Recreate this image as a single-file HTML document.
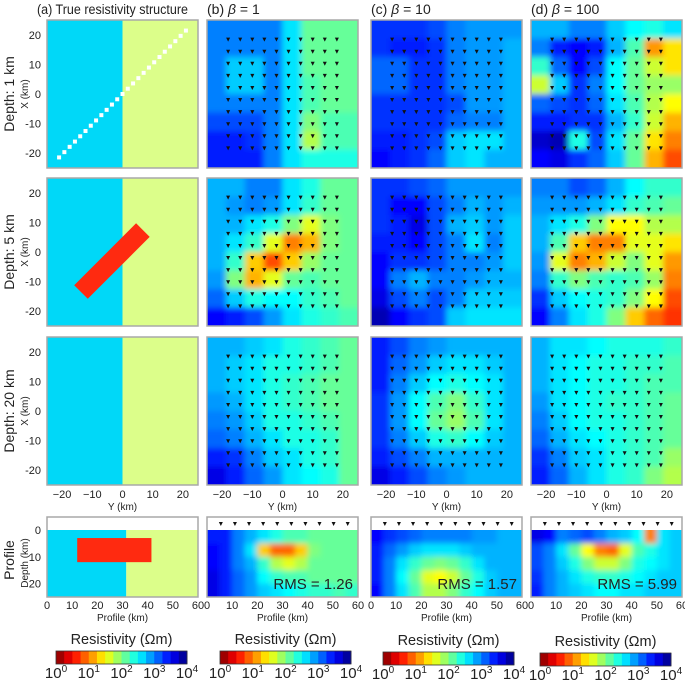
<!DOCTYPE html>
<html><head><meta charset="utf-8"><style>
body{margin:0;background:#fff;}
svg text{font-family:"Liberation Sans",sans-serif;fill:#222;}
</style></head><body>
<svg id="fig" width="685" height="680" viewBox="0 0 685 680" xmlns="http://www.w3.org/2000/svg">
<defs><filter id="bl" x="-10%" y="-10%" width="120%" height="120%"><feGaussianBlur stdDeviation="3"/></filter></defs>
</svg>
<script>
// ---- data: log10 resistivity grids (rows top X=25 -> bottom X=-25, cols Y=-25 -> 25)
const b1=[[3.0,3.0,3.0,3.0,2.6,2.1,2.1,2.1],[3.0,3.0,3.0,3.0,2.6,2.1,2.1,2.1],[3.0,2.7,2.7,3.0,2.6,2.1,2.1,2.1],[3.0,2.7,2.7,3.0,2.6,2.2,2.1,2.1],[3.0,3.0,3.0,3.0,2.6,2.2,2.1,2.1],[3.2,3.2,3.2,3.0,2.6,2.0,2.2,2.2],[3.4,3.4,3.3,3.0,2.6,1.8,2.2,2.2],[3.4,3.4,3.4,3.0,2.6,2.4,2.4,2.4]];
const c1=[[3.3,3.3,3.3,3.2,3.0,2.9,2.9,2.9],[3.3,3.4,3.4,3.3,3.0,2.9,2.9,2.8],[3.1,3.1,3.3,3.3,3.0,2.9,2.9,2.8],[3.1,3.1,3.3,3.3,3.0,2.9,2.9,2.8],[3.3,3.3,3.3,3.3,3.2,2.9,2.9,2.8],[3.3,3.3,3.3,3.3,3.1,3.0,3.0,2.8],[3.4,3.4,3.3,3.2,2.7,2.6,2.6,2.8],[3.5,3.4,3.3,3.1,2.7,2.6,2.8,2.8]];
const d1=[[2.8,2.8,3.0,3.0,2.7,2.5,2.4,2.6],[3.0,3.4,3.5,3.4,2.8,2.2,1.1,1.4],[2.3,3.1,3.5,3.2,2.5,2.1,1.7,1.4],[1.7,2.7,3.3,3.0,2.5,2.1,1.9,1.9],[3.1,3.2,3.3,3.1,2.6,2.2,1.8,1.5],[3.4,3.4,3.3,3.3,2.8,2.3,1.7,1.2],[3.7,3.8,2.4,3.2,2.6,2.1,1.4,1.0],[3.5,3.6,3.3,3.1,2.7,2.1,1.2,0.8]];
const b2=[[2.8,2.8,3.0,3.0,2.6,2.4,2.1,2.1],[2.8,2.9,3.0,2.9,2.6,2.3,2.1,2.1],[2.8,2.8,2.6,2.4,2.0,1.6,2.0,2.1],[2.8,2.6,2.3,1.6,1.0,1.2,2.0,2.1],[2.8,2.3,1.3,0.8,1.3,1.9,2.1,2.1],[2.9,2.0,1.2,1.6,2.1,2.2,2.1,2.1],[3.1,2.7,2.4,2.5,2.5,2.3,2.2,2.1],[3.5,3.4,3.2,2.9,2.6,2.4,2.3,2.2]];
const c2=[[3.3,3.3,3.2,3.1,2.9,2.9,2.9,2.9],[3.3,3.5,3.5,3.2,3.0,2.8,2.9,2.8],[3.3,3.4,3.6,3.2,2.8,2.7,2.9,2.7],[3.4,3.4,3.5,3.2,3.0,2.6,3.0,2.7],[3.5,3.3,3.3,3.2,3.0,3.0,2.9,2.7],[3.5,3.0,2.8,3.0,3.0,2.9,2.8,2.8],[3.6,3.2,3.0,3.2,3.0,2.7,2.7,2.7],[3.8,3.5,3.3,3.2,2.7,2.6,2.6,2.6]];
const d2=[[3.0,3.0,3.2,3.1,2.8,2.5,2.3,2.3],[2.9,2.9,2.9,2.8,2.6,2.3,2.2,2.1],[2.8,2.6,2.4,2.0,1.5,1.5,1.8,1.8],[2.8,2.2,1.3,1.0,1.0,1.6,1.6,1.4],[2.9,1.6,1.0,1.2,1.7,2.0,1.6,1.1],[3.0,2.3,2.0,2.2,2.3,2.2,1.9,1.0],[3.3,2.7,2.5,2.4,2.3,2.0,1.5,0.8],[3.5,3.0,2.6,2.4,2.0,1.3,0.9,0.7]];
const b3=[[2.8,2.8,2.7,2.6,2.4,2.3,2.2,2.1],[2.8,2.7,2.6,2.4,2.4,2.3,2.2,2.1],[2.8,2.7,2.6,2.4,2.3,2.2,2.1,2.1],[2.9,2.8,2.6,2.4,2.3,2.2,2.1,2.1],[3.0,2.9,2.7,2.4,2.4,2.3,2.2,2.1],[3.1,3.0,2.8,2.6,2.4,2.4,2.3,2.1],[3.4,3.3,3.0,2.7,2.6,2.4,2.3,2.1],[3.6,3.4,3.1,2.9,2.6,2.5,2.4,2.1]];
const c3=[[3.4,3.2,3.0,2.9,2.8,2.8,2.8,2.8],[3.4,3.1,2.9,2.7,2.6,2.6,2.7,2.8],[3.4,3.0,2.7,2.5,2.4,2.5,2.6,2.8],[3.3,2.9,2.5,2.2,2.0,2.3,2.6,2.8],[3.3,2.9,2.5,2.1,1.9,2.2,2.6,2.8],[3.3,3.0,2.7,2.4,2.3,2.5,2.7,2.8],[3.4,3.2,3.0,2.8,2.8,2.8,2.8,2.8],[3.6,3.4,3.2,3.0,2.9,2.8,2.8,2.8]];
const d3=[[2.8,2.6,2.6,2.5,2.4,2.4,2.4,2.3],[2.8,2.6,2.5,2.4,2.4,2.3,2.3,2.2],[2.8,2.6,2.5,2.4,2.4,2.3,2.2,2.2],[2.9,2.6,2.5,2.4,2.3,2.3,2.2,2.1],[3.0,2.7,2.5,2.4,2.4,2.3,2.2,2.1],[3.1,2.8,2.6,2.5,2.4,2.3,2.2,2.1],[3.3,3.0,2.7,2.6,2.4,2.3,2.2,1.9],[3.4,3.1,2.8,2.6,2.4,2.3,2.0,1.8]];
const bp=[[3.4,3.4,3.0,2.8,2.6,2.4,2.2,2.2,2.1,2.1,2.1,2.1],[3.5,3.4,3.0,2.6,1.3,0.9,0.9,1.3,2.0,2.1,2.1,2.1],[3.5,3.4,3.0,2.8,2.3,1.8,1.6,1.8,2.1,2.1,2.1,2.1],[3.6,3.4,3.1,2.9,2.5,2.3,2.2,2.2,2.1,2.1,2.1,2.1],[3.6,3.4,3.1,2.9,2.7,2.6,2.5,2.4,2.3,2.3,2.2,2.3]];
const cp=[[3.5,3.3,3.2,3.1,3.0,3.0,3.0,3.0,2.9,2.9,2.8,2.8],[3.4,3.1,2.9,2.7,2.6,2.6,2.6,2.7,2.8,2.8,2.8,2.8],[3.4,3.0,2.6,2.3,2.1,2.0,2.1,2.3,2.6,2.8,2.8,2.8],[3.4,3.0,2.5,2.1,1.6,1.5,1.7,2.1,2.4,2.7,2.8,2.8],[3.5,3.0,2.6,2.2,1.8,1.8,2.0,2.3,2.5,2.7,2.8,2.8]];
const dp=[[3.6,3.5,3.0,3.1,3.2,3.0,2.8,2.7,2.5,1.0,2.6,2.7],[3.2,3.0,2.6,2.1,1.5,1.0,0.9,1.6,2.2,2.4,2.6,2.7],[3.2,3.0,2.7,2.4,2.0,1.7,1.7,2.0,2.4,2.5,2.6,2.7],[3.3,3.0,2.8,2.6,2.4,2.3,2.3,2.4,2.5,2.6,2.7,2.7],[3.4,3.0,2.8,2.7,2.6,2.5,2.5,2.6,2.6,2.7,2.7,2.7]];
const rmsValues=["1.26","1.57","5.99"];
const mapTicks=[-20,-10,0,10,20];
const profTicks=[0,10,20,30,40,50,60];
const depthTicks=[0,10,20];
const cbExp=["0","1","2","3","4"];

const NS="http://www.w3.org/2000/svg";
const svg=document.getElementById('fig');
function el(t,a,p){const e=document.createElementNS(NS,t);for(const k in a)e.setAttribute(k,a[k]);(p||svg).appendChild(e);return e;}
function cl(x){return Math.max(0,Math.min(1,x));}
function col(v){const t=cl(v/4);const r=cl(1.5-Math.abs(4*(1-t)-3)),g=cl(1.5-Math.abs(4*(1-t)-2)),b=cl(1.5-Math.abs(4*(1-t)-1));return `rgb(${Math.round(r*255)},${Math.round(g*255)},${Math.round(b*255)})`;}
function txt(x,y,s,size,anchor,name,rot){const t=el('text',{x:x,y:y,'font-size':size,'text-anchor':anchor||'middle'});if(rot)t.setAttribute('transform',`rotate(-90 ${x} ${y})`);t.textContent=s;return t;}

const colX=[47,207,371,531], W=151;
const rowY=[20,178,337], H=148;
const pTop=517, pZero=530, pBot=597;
let clipId=0;
function grid(x0,y0,w,h,data,name){
  const id='c'+(clipId++);
  const cp=el('clipPath',{id:id});el('rect',{x:x0,y:y0,width:w,height:h},cp);
  svg.querySelector('defs').appendChild(cp);
  const g=el('g',{'clip-path':`url(#${id})`});
  
  const inner=el('g',{filter:'url(#bl)'},g);
  const R=data.length,C=data[0].length,cw=w/C,ch=h/R,pad=10;
  data.forEach((row,i)=>row.forEach((v,j)=>{
    let x=x0+j*cw,y=y0+i*ch,ww=cw+0.6,hh=ch+0.6;
    if(j==0){x-=pad;ww+=pad;} if(j==C-1)ww+=pad;
    if(i==0){y-=pad;hh+=pad;} if(i==R-1)hh+=pad;
    const r=el('rect',{x:x,y:y,width:ww,height:hh,fill:col(v)},inner);
    
  }));
  return g;
}
function frame(x,y,w,h,name){const r=el('rect',{x:x,y:y,width:w,height:h,fill:'none',stroke:'#a8a8a8','stroke-width':1.5});}
function tri(x,y){const p=el('path',{d:`M${x-2},${y-2}h4l-2,4z`,fill:'#111'});}

// titles
const ta=txt(37,14,'(a) True resistivity structure',13.5,'start','title-a');
ta.setAttribute('textLength','151');ta.setAttribute('lengthAdjust','spacingAndGlyphs');
[['(b) ','1',207],['(c) ','10',371],['(d) ','100',531]].forEach((d,i)=>{
  const t=el('text',{x:d[2],y:14,'font-size':14});t.innerHTML=d[0]+'<tspan font-style="italic">β</tspan> = '+d[1];
  
});

// row labels
['Depth: 1 km','Depth: 5 km','Depth: 20 km'].forEach((s,r)=>{
  const cy=rowY[r]+H/2;
  txt(14,cy,s,14,'middle','row-label-'+(r+1),true);
  txt(28,cy,'X (km)',10,'middle','x-axis-title',true);
  mapTicks.forEach(v=>txt(41,cy-v*2.96+4,String(v),11,'end','x-tick'));
});
txt(14,pTop+(pBot-pTop)/2+3,'Profile',14,'middle','row-label-profile',true);
txt(28,563,'Depth (km)',10,'middle','depth-axis-title',true);

const grids=[[null,b1,c1,d1],[null,b2,c2,d2],[null,b3,c3,d3]];
for(let r=0;r<3;r++){for(let c=0;c<4;c++){
  const x0=colX[c],y0=rowY[r];
  if(c==0){
    const g=el('g',{});
    el('rect',{x:x0,y:y0,width:W/2,height:H,fill:'#00d8f8'},g);
    el('rect',{x:x0+W/2,y:y0,width:W/2,height:H,fill:'#dcfe8a'},g);
    if(r==1){const cx=x0+W/2,cy=y0+H/2,s=W/50;
      el('polygon',{points:`${cx-16*s},${cy+11*s} ${cx+4.5*s},${cy-9.5*s} ${cx+9*s},${cy-5*s} ${cx-11.5*s},${cy+15.5*s}`,fill:'#ff2a10'},g);}
    if(r==0){const cx=x0+W/2,cy=y0+H/2,s=W/50;
      for(let k=-21;k<=21.01;k+=1.75){const d=el('rect',{x:cx+k*s-2,y:cy-k*s-2,width:4,height:4,fill:'#fff'},g);}}
  }else{
    grid(x0,y0,W,H,grids[r][c],'inversion-map');
    const cx=x0+W/2,cy=y0+H/2,s=W/50;
    for(let i=0;i<10;i++)for(let j=0;j<10;j++)tri(cx+(-18+4*j)*s,cy+(-18+4*i)*s);
  }
  frame(x0,y0,W,H,'map-frame');
}}
// bottom x ticks of map row3
colX.forEach(x0=>{const cx=x0+W/2;
  mapTicks.forEach(v=>txt(cx+v*W/50,498,(v<0?'\u2212'+(-v):String(v)),11,'middle','y-tick'));
  txt(cx,510,'Y (km)',10,'middle','y-axis-title');
});

// profile panels
const ps=(pBot-pZero)/25;
depthTicks.forEach(v=>txt(41,pZero+v*ps+4,String(v),11,'end','depth-tick'));
{
  const x0=colX[0],s=W/60;
  const g=el('g',{});
  el('rect',{x:x0,y:pZero,width:31.5*s,height:pBot-pZero,fill:'#00d8f8'},g);
  el('rect',{x:x0+31.5*s,y:pZero,width:W-31.5*s,height:pBot-pZero,fill:'#dcfe8a'},g);
  el('rect',{x:x0+12*s,y:pZero+3*ps,width:29.5*s,height:9*ps,fill:'#ff2a10'},g);
}
[bp,cp,dp].forEach((d,i)=>{
  const x0=colX[i+1];
  grid(x0,pZero,W,pBot-pZero,d,'profile-section');
  for(let k=0;k<10;k++)tri(x0+(5.5+k*5.6)*W/60,524);
  txt(x0+W-5,pBot-8,'RMS = '+rmsValues[i],15,'end','rms-label');
});
colX.forEach(x0=>{
  frame(x0,pTop,W,pBot-pTop,'profile-frame');
  profTicks.forEach(v=>txt(x0+v*W/60,609,String(v),11,'middle','profile-tick'));
  txt(x0+W/2,621,'Profile (km)',10,'middle','profile-axis-title');
});

// colorbars
const cbX=[56,220,383,540],cbY=[651,651,652,653],cbW=131,cbH=13;
cbX.forEach((x0,i)=>{
  const g=el('g',{});
  for(let k=0;k<16;k++){el('rect',{x:x0+k*cbW/16,y:cbY[i],width:cbW/16+0.4,height:cbH,fill:col((k+0.5)/4)},g);}
  el('rect',{x:x0,y:cbY[i],width:cbW,height:cbH,fill:'none',stroke:'#333','stroke-width':0.8},g);
  txt(x0+cbW/2,cbY[i]-7,'Resistivity (Ωm)',14.5,'middle','colorbar-title');
  cbExp.forEach((e,k)=>{
    const t=el('text',{x:x0+k*cbW/4,y:cbY[i]+cbH+14,'font-size':15,'text-anchor':'middle'});
    t.innerHTML='10<tspan dy="-6" font-size="10">'+e+'</tspan>';
    
  });
});
</script>
</body></html>
